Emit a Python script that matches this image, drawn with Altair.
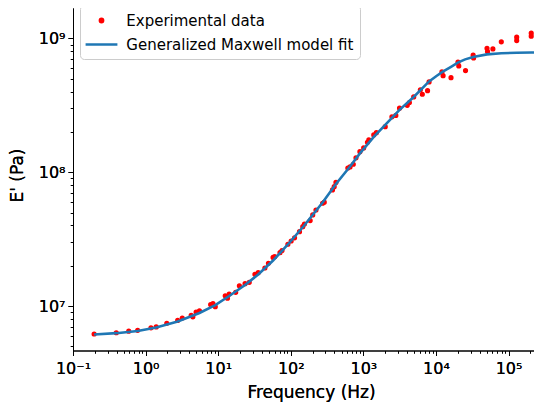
import altair as alt
import pandas as pd

EXP = "Experimental data"
FIT = "Generalized Maxwell model fit"

# log10 of frequency (Hz) and storage modulus E' (Pa)
exp_log_freq = [-0.709, -0.404, -0.232, -0.109, 0.074, 0.146, 0.292, 0.442, 0.505, 0.628,
                0.651, 0.696, 0.742, 0.896, 0.928, 0.960, 1.097, 1.128, 1.151, 1.241,
                1.292, 1.370, 1.428, 1.506, 1.551, 1.643, 1.692, 1.756, 1.779, 1.851,
                1.879, 1.960, 2.005, 2.052, 2.120, 2.165, 2.188, 2.267, 2.302, 2.347,
                2.438, 2.461, 2.574, 2.598, 2.622, 2.786, 2.816, 2.861, 2.898, 2.952,
                3.004, 3.056, 3.075, 3.143, 3.179, 3.301, 3.393, 3.447, 3.498, 3.604,
                3.634, 3.693, 3.785, 3.812, 3.884, 3.905, 4.082, 4.098, 4.207, 4.303,
                4.314, 4.407, 4.512, 4.518, 4.703, 4.710, 4.784, 4.900, 5.112, 5.112,
                5.312, 5.312]
exp_log_mod = [6.791, 6.800, 6.812, 6.818, 6.837, 6.844, 6.871, 6.892, 6.910, 6.930,
               6.919, 6.954, 6.964, 7.011, 7.019, 6.995, 7.077, 7.058, 7.090, 7.102,
               7.151, 7.167, 7.177, 7.237, 7.249, 7.284, 7.319, 7.363, 7.369, 7.399,
               7.415, 7.462, 7.486, 7.510, 7.556, 7.593, 7.613, 7.639, 7.681, 7.718,
               7.768, 7.776, 7.868, 7.892, 7.924, 8.032, 8.040, 8.060, 8.108, 8.154,
               8.182, 8.224, 8.242, 8.279, 8.296, 8.341, 8.414, 8.425, 8.479, 8.500,
               8.521, 8.563, 8.616, 8.583, 8.610, 8.675, 8.750, 8.722, 8.707, 8.823,
               8.795, 8.760, 8.875, 8.855, 8.927, 8.902, 8.922, 8.975, 9.010, 8.984,
               9.040, 9.017]

fit_log_freq = [-0.709, -0.404, -0.109, 0.146, 0.442, 0.742, 0.960, 1.151, 1.370, 1.551,
                1.756, 1.960, 2.179, 2.438, 2.622, 2.816, 2.952, 3.143, 3.301, 3.498,
                3.693, 3.905, 4.007, 4.089, 4.207, 4.307, 4.402, 4.512, 4.703, 4.900,
                5.112, 5.312, 5.450]
fit_log_mod = [6.787, 6.797, 6.813, 6.839, 6.884, 6.948, 7.007, 7.075, 7.157, 7.236,
               7.340, 7.460, 7.598, 7.774, 7.912, 8.043, 8.141, 8.264, 8.354, 8.466,
               8.563, 8.679, 8.720, 8.750, 8.788, 8.821, 8.844, 8.862, 8.881, 8.890,
               8.893, 8.895, 8.895]

X_MAX = 2.24e5
Y_MIN, Y_MAX = 4.65e6, 1.69e9
x_major = [0.1, 1, 10, 100, 1000, 1e4, 1e5]
y_major = [1e7, 1e8, 1e9]
x_minor = [m * 10.0 ** k for k in range(-1, 6) for m in range(2, 10) if m * 10.0 ** k <= X_MAX]
y_minor = [m * 10.0 ** k for k in range(6, 9) for m in range(2, 10) if Y_MIN <= m * 10.0 ** k <= Y_MAX]

exp_df = pd.DataFrame({
    "freq": [10 ** v for v in exp_log_freq],
    "E": [10 ** v for v in exp_log_mod],
    "series": EXP,
})
fit_df = pd.DataFrame({
    "freq": [10 ** v for v in fit_log_freq],
    "E": [10 ** v for v in fit_log_mod],
    "series": FIT,
    "order": list(range(len(fit_log_freq))),
})

FONT = "DejaVu Sans"
SYM = 253  # symbol size used for both legend entries
DOT = "M0,-0.2A0.2,0.2 0 1,1 0,0.2A0.2,0.2 0 1,1 0,-0.2Z"
DASH = "M-2,0H2"

x_scale = alt.Scale(type="log", domain=[0.1, X_MAX], nice=False)
y_scale = alt.Scale(type="log", domain=[Y_MIN, Y_MAX], nice=False)

x_labels = ("datum.value < 0.5 ? '10⁻¹' : datum.value < 5 ? '10⁰' : datum.value < 50 ? '10¹' : "
            "datum.value < 500 ? '10²' : datum.value < 5000 ? '10³' : datum.value < 50000 ? '10⁴' : '10⁵'")
y_labels = "datum.value < 5e7 ? '10⁷' : datum.value < 5e8 ? '10⁸' : '10⁹'"

x_axis = alt.Axis(values=x_major, labelExpr=x_labels, title="Frequency (Hz)", orient="bottom",
                  titleX=238, titlePadding=8, labelFlush=False, labelPadding=5)
y_axis = alt.Axis(values=y_major, labelExpr=y_labels, title="E' (Pa)", orient="left",
                  titleY=167, titlePadding=12, labelFlush=False)

legend = alt.Legend(
    title=None, orient="none", legendX=7, legendY=-3,
    fillColor="rgba(255,255,255,0.8)", strokeColor="#cccccc", cornerRadius=4,
    padding=6, labelFont=FONT, labelFontSize=15, labelColor="black", labelLimit=400,
    symbolSize=SYM, symbolOffset=6, labelOffset=15.3, rowPadding=6, symbolStrokeWidth=2.6,
)
color_scale = alt.Scale(domain=[EXP, FIT], range=["#ff0000", "#1f77b4"])
shape_scale = alt.Scale(domain=[EXP, FIT], range=[DOT, DASH])

points = alt.Chart(exp_df).mark_point(filled=True, opacity=1, size=SYM, strokeWidth=2,
                                      clip=True).encode(
    x=alt.X("freq:Q", scale=x_scale, axis=x_axis),
    y=alt.Y("E:Q", scale=y_scale, axis=y_axis),
    color=alt.Color("series:N", scale=color_scale, legend=legend),
    stroke=alt.Stroke("series:N", scale=color_scale, legend=legend),
    shape=alt.Shape("series:N", scale=shape_scale, legend=legend),
)

line = alt.Chart(fit_df).mark_line(strokeWidth=2.6, clip=True).encode(
    x=alt.X("freq:Q", scale=x_scale, axis=x_axis),
    y=alt.Y("E:Q", scale=y_scale, axis=y_axis),
    color=alt.Color("series:N", scale=color_scale, legend=legend),
    order="order:Q",
)

minor = alt.Chart(fit_df).mark_point(opacity=0).encode(
    x=alt.X("freq:Q", scale=x_scale, axis=alt.Axis(values=x_minor, labels=False, domain=False,
                                                    tickSize=2.8, title=None, orient="bottom")),
    y=alt.Y("E:Q", scale=y_scale, axis=alt.Axis(values=y_minor, labels=False, domain=False,
                                                 tickSize=2.8, title=None, orient="left")),
)

chart = alt.layer(points, line, minor).resolve_axis(x="independent", y="independent").properties(
    width=461, height=342.5,
    autosize=alt.AutoSizeParams(type="none"),
    padding={"left": 65, "top": 0, "right": 0, "bottom": 55},
).configure_view(strokeOpacity=0).configure_axis(
    grid=False, labelFont=FONT, labelFontSize=16, labelColor="black",
    titleFont=FONT, titleFontSize=17, titleFontWeight="normal", titleColor="black",
    domainColor="black", tickColor="black", tickSize=5, tickWidth=1, domainWidth=1,
    labelPadding=3,
)

chart.save("out.html", embed_options={"renderer": "svg", "actions": False})
